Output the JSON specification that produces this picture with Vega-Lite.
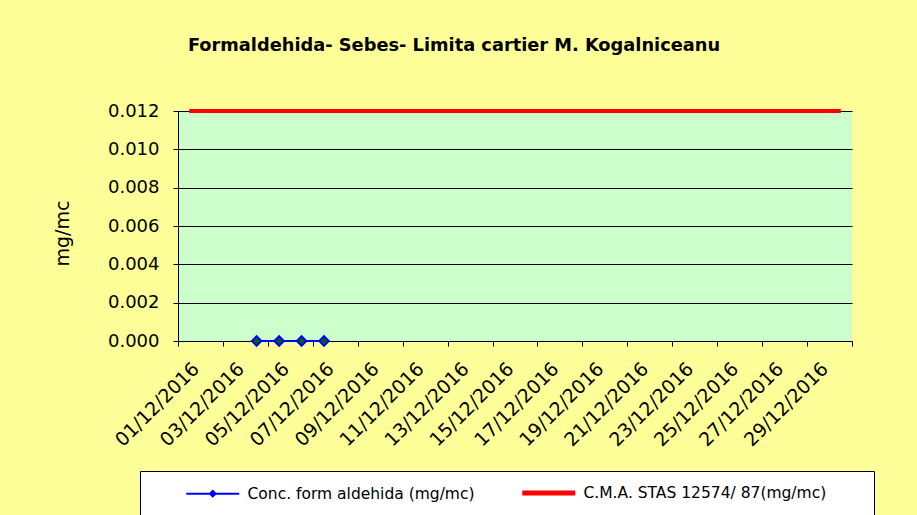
{
  "$schema": "https://vega.github.io/schema/vega-lite/v6.json",
  "width": 674,
  "height": 230,
  "autosize": {"type": "none"},
  "padding": {"left": 178, "top": 111, "right": 65, "bottom": 174},
  "background": "#FFFF99",
  "config": {
    "font": "DejaVu Sans",
    "view": {"fill": "#CCFFCC", "stroke": null}
  },
  "title": {
    "text": "Formaldehida- Sebes- Limita cartier M. Kogalniceanu",
    "font": "DejaVu Sans",
    "fontSize": 17.8,
    "fontWeight": "bold",
    "color": "#000000",
    "anchor": "middle",
    "dx": -61,
    "offset": 47
  },
  "data": {
    "values": [
      {"date": "2016-12-01", "conc": null, "cma": 0.012},
      {"date": "2016-12-02", "conc": null, "cma": 0.012},
      {"date": "2016-12-03", "conc": null, "cma": 0.012},
      {"date": "2016-12-04", "conc": 0, "cma": 0.012},
      {"date": "2016-12-05", "conc": 0, "cma": 0.012},
      {"date": "2016-12-06", "conc": 0, "cma": 0.012},
      {"date": "2016-12-07", "conc": 0, "cma": 0.012},
      {"date": "2016-12-08", "conc": null, "cma": 0.012},
      {"date": "2016-12-09", "conc": null, "cma": 0.012},
      {"date": "2016-12-10", "conc": null, "cma": 0.012},
      {"date": "2016-12-11", "conc": null, "cma": 0.012},
      {"date": "2016-12-12", "conc": null, "cma": 0.012},
      {"date": "2016-12-13", "conc": null, "cma": 0.012},
      {"date": "2016-12-14", "conc": null, "cma": 0.012},
      {"date": "2016-12-15", "conc": null, "cma": 0.012},
      {"date": "2016-12-16", "conc": null, "cma": 0.012},
      {"date": "2016-12-17", "conc": null, "cma": 0.012},
      {"date": "2016-12-18", "conc": null, "cma": 0.012},
      {"date": "2016-12-19", "conc": null, "cma": 0.012},
      {"date": "2016-12-20", "conc": null, "cma": 0.012},
      {"date": "2016-12-21", "conc": null, "cma": 0.012},
      {"date": "2016-12-22", "conc": null, "cma": 0.012},
      {"date": "2016-12-23", "conc": null, "cma": 0.012},
      {"date": "2016-12-24", "conc": null, "cma": 0.012},
      {"date": "2016-12-25", "conc": null, "cma": 0.012},
      {"date": "2016-12-26", "conc": null, "cma": 0.012},
      {"date": "2016-12-27", "conc": null, "cma": 0.012},
      {"date": "2016-12-28", "conc": null, "cma": 0.012},
      {"date": "2016-12-29", "conc": null, "cma": 0.012},
      {"date": "2016-12-30", "conc": null, "cma": 0.012}
    ]
  },
  "resolve": {"axis": {"x": "independent"}},
  "layer": [
    {
      "mark": {"type": "line", "strokeWidth": 4, "strokeCap": "butt"},
      "encoding": {
        "x": {
          "field": "date", "type": "temporal",
          "scale": {"type": "utc", "domain": [
            {"year": 2016, "month": 11, "date": 30, "hours": 12, "utc": true},
            {"year": 2016, "month": 12, "date": 30, "hours": 12, "utc": true}
          ]},
          "axis": {
            "orient": "bottom",
            "title": null,
            "domain": false,
            "ticks": false,
            "grid": false,
            "labelAngle": -45,
            "labelAlign": "right",
            "labelBaseline": "top",
            "labelFontSize": 19,
            "labelColor": "#000000",
            "labelPadding": 18,
            "labelOverlap": false,
            "labelExpr": "utcFormat(datum.value, '%d/%m/%Y')",
            "values": [
              {"year": 2016, "month": 12, "date": 1, "utc": true},
              {"year": 2016, "month": 12, "date": 3, "utc": true},
              {"year": 2016, "month": 12, "date": 5, "utc": true},
              {"year": 2016, "month": 12, "date": 7, "utc": true},
              {"year": 2016, "month": 12, "date": 9, "utc": true},
              {"year": 2016, "month": 12, "date": 11, "utc": true},
              {"year": 2016, "month": 12, "date": 13, "utc": true},
              {"year": 2016, "month": 12, "date": 15, "utc": true},
              {"year": 2016, "month": 12, "date": 17, "utc": true},
              {"year": 2016, "month": 12, "date": 19, "utc": true},
              {"year": 2016, "month": 12, "date": 21, "utc": true},
              {"year": 2016, "month": 12, "date": 23, "utc": true},
              {"year": 2016, "month": 12, "date": 25, "utc": true},
              {"year": 2016, "month": 12, "date": 27, "utc": true},
              {"year": 2016, "month": 12, "date": 29, "utc": true}
            ]
          }
        },
        "y": {
          "field": "cma", "type": "quantitative",
          "scale": {"domain": [0, 0.012]},
          "axis": {
            "title": "mg/mc",
            "titleFontSize": 19,
            "titleFontWeight": "normal",
            "titleColor": "#000000",
            "titlePadding": 35,
            "titleY": 122,
            "values": [0, 0.002, 0.004, 0.006, 0.008, 0.01, 0.012],
            "tickCount": 7,
            "labelOverlap": false,
            "format": ".3f",
            "labelFontSize": 18,
            "labelColor": "#000000",
            "labelPadding": 14,
            "tickSize": 5,
            "tickColor": "#000000",
            "domainColor": "#000000",
            "grid": true,
            "gridColor": "#000000",
            "gridOpacity": 1,
            "gridWidth": 1
          }
        },
        "color": {
          "datum": "C.M.A. STAS 12574/ 87(mg/mc)",
          "type": "nominal",
          "scale": {
            "domain": ["Conc. form aldehida (mg/mc)", "C.M.A. STAS 12574/ 87(mg/mc)"],
            "range": ["#0000FF", "#FF0000"]
          },
          "legend": {
            "title": "\u2003",
            "titleOrient": "right",
            "titleFontSize": 16,
            "titlePadding": 34,
            "orient": "none",
            "legendX": -38,
            "legendY": 360,
            "direction": "horizontal",
            "columns": 2,
            "fillColor": "#FFFFFF",
            "strokeColor": "#000000",
            "padding": 14,
            "symbolOffset": 51,
            "symbolType": "stroke",
            "symbolSize": 1225,
            "symbolStrokeWidth": 5,
            "labelFont": "DejaVu Sans",
            "labelFontSize": 15.5,
            "labelColor": "#000000",
            "labelLimit": 400,
            "labelOffset": 27,
            "columnPadding": 15,
            "encode": {
              "symbols": {
                "update": {
                  "shape": {"signal": "datum.value === 'Conc. form aldehida (mg/mc)' ? 'M-1.514,0H1.514M-0.16,0L0,-0.16L0.16,0L0,0.16Z' : 'M-1.514,0H1.514'"},
                  "strokeWidth": {"signal": "datum.value === 'Conc. form aldehida (mg/mc)' ? 2 : 5"},
                  "fill": {"signal": "datum.value === 'Conc. form aldehida (mg/mc)' ? '#006400' : 'transparent'"},
                  "fillOpacity": {"value": 1}
                }
              }
            }
          }
        }
      }
    },
    {
      "transform": [{"filter": "isValid(datum.conc)"}],
      "mark": {"type": "line", "strokeWidth": 2},
      "encoding": {
        "x": {
          "field": "date", "type": "temporal",
          "axis": {
            "orient": "bottom",
            "title": null,
            "labels": false,
            "grid": false,
            "tickSize": 5,
            "tickColor": "#000000",
            "domainColor": "#000000",
            "values": [
              {"year": 2016, "month": 11, "date": 30, "hours": 12, "utc": true},
              {"year": 2016, "month": 12, "date": 2, "hours": 12, "utc": true},
              {"year": 2016, "month": 12, "date": 4, "hours": 12, "utc": true},
              {"year": 2016, "month": 12, "date": 6, "hours": 12, "utc": true},
              {"year": 2016, "month": 12, "date": 8, "hours": 12, "utc": true},
              {"year": 2016, "month": 12, "date": 10, "hours": 12, "utc": true},
              {"year": 2016, "month": 12, "date": 12, "hours": 12, "utc": true},
              {"year": 2016, "month": 12, "date": 14, "hours": 12, "utc": true},
              {"year": 2016, "month": 12, "date": 16, "hours": 12, "utc": true},
              {"year": 2016, "month": 12, "date": 18, "hours": 12, "utc": true},
              {"year": 2016, "month": 12, "date": 20, "hours": 12, "utc": true},
              {"year": 2016, "month": 12, "date": 22, "hours": 12, "utc": true},
              {"year": 2016, "month": 12, "date": 24, "hours": 12, "utc": true},
              {"year": 2016, "month": 12, "date": 26, "hours": 12, "utc": true},
              {"year": 2016, "month": 12, "date": 28, "hours": 12, "utc": true},
              {"year": 2016, "month": 12, "date": 30, "hours": 12, "utc": true}
            ]
          }
        },
        "y": {"field": "conc", "type": "quantitative"},
        "color": {"datum": "Conc. form aldehida (mg/mc)", "type": "nominal"}
      }
    },
    {
      "transform": [{"filter": "isValid(datum.conc)"}],
      "mark": {"type": "point", "shape": "diamond", "filled": true, "fill": "#006400", "stroke": "#0000FF", "strokeWidth": 2, "size": 90, "opacity": 1},
      "encoding": {
        "x": {"field": "date", "type": "temporal", "axis": null},
        "y": {"field": "conc", "type": "quantitative"}
      }
    }
  ]
}
